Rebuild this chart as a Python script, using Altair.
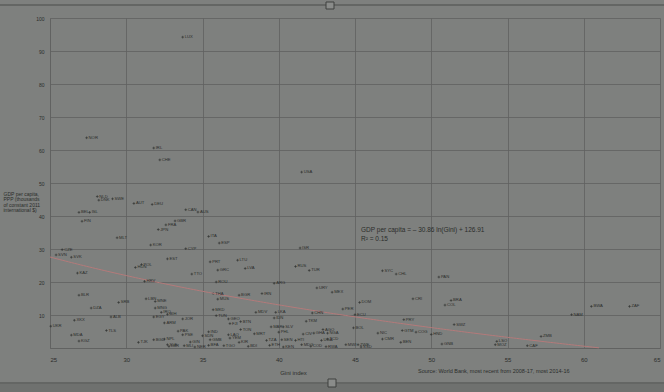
import altair as alt
import pandas as pd

codes = ["LUX","NOR","IRL","CHE","USA","NLD","DNK","SWE","AUT","DEU","CAN","AUS","BEL","ISL","FIN",
         "GBR","FRA","JPN","MLT","ITA","ESP","KOR","CYP","ISR","CZE","SVN","SVK","EST","PRT","LTU",
         "POL","HUN","GRC","LVA","KAZ","RUS","TUR","SYC","CHL","PAN","TTO","HRV","ROU","ARG","URY",
         "MEX","IRN","THA","MUS","BGR","BLR","SRB","LBN","MNE","DZA","MNG","IRQ","BIH","ALB","XKX",
         "EGY","JOR","ARM","UKR","MDA","KGZ","TLS","TJK","BGD","NPL","SLE","LBR","PAK","PSE","GIN",
         "MLI","NER","MKD","TUN","GEO","FJI","BTN","TON","MDV","LKA","IDN","IND","SDN","GMB","BFA",
         "TGO","LAO","YEM","KIR","BDI","MRT","MAR","SLV","PHL","TZA","ETH","SEN","KEN","HTI","CIV",
         "MDG","GHA","AGO","NGA","UGA","TCD","COD","RWA","CHN","TKM","PER","ECU","DOM","BOL","MWI",
         "ZWE","SSD","NIC","CMR","BEN","CRI","PRY","GTM","COG","BRA","COL","HND","GNB","SWZ","LSO",
         "MOZ","CAF","ZMB","NAM","BWA","ZAF"]
gini = [33.7,27.4,31.8,32.2,41.5,28.1,28.2,29.1,30.5,31.7,33.9,34.7,26.9,27.6,27.1,
        33.2,32.6,32.1,29.4,35.4,36.1,31.6,33.9,41.4,25.8,25.4,26.4,32.7,35.5,37.3,
        31.0,30.6,36.0,37.8,26.8,41.1,42.0,46.8,47.7,50.5,34.3,31.2,35.9,39.7,42.5,
        43.5,38.9,35.7,36.0,37.4,26.9,29.5,31.3,31.9,27.7,31.9,32.3,32.7,29.0,26.6,
        31.8,33.7,32.5,25.05,26.4,26.9,28.7,30.8,31.8,32.5,32.7,32.8,33.4,33.7,34.2,
        33.8,34.5,35.7,35.9,36.7,36.8,37.5,37.5,38.5,39.8,39.7,35.4,35.0,35.5,35.4,
        36.4,36.7,36.8,37.4,38.0,38.4,39.5,40.3,40.0,39.2,39.4,40.2,40.3,41.1,41.6,
        41.5,42.3,42.9,43.2,42.8,43.2,42.1,43.1,42.2,41.8,44.2,45.0,45.3,44.9,44.4,
        45.2,45.4,46.5,46.8,48.0,48.8,48.2,48.1,49.0,51.3,50.9,50.0,50.7,51.5,54.3,
        54.2,56.3,57.2,59.2,60.5,63.0]
gdp = [94.2,63.7,60.6,57.0,53.3,45.9,44.8,45.2,43.8,43.5,41.9,41.2,41.1,41.1,38.4,
       38.5,37.3,35.9,33.4,33.8,31.8,31.2,30.1,30.3,29.8,28.2,27.5,27.0,26.1,26.6,
       25.3,24.4,23.6,24.1,22.7,24.7,23.5,23.4,22.4,21.5,22.4,20.2,20.0,19.6,18.2,
       16.9,16.5,16.5,14.8,16.0,16.0,13.8,14.9,14.1,12.1,12.1,10.8,10.2,9.4,8.4,
       9.4,8.8,7.6,6.6,3.9,2.1,5.3,1.7,2.5,2.7,1.0,0.5,5.1,4.0,1.8,
       0.7,0.3,11.6,9.8,8.8,7.4,8.0,5.6,10.8,10.8,9.1,4.9,3.7,2.5,0.8,
       0.7,4.0,3.0,1.7,0.5,4.3,6.4,6.4,4.8,2.3,0.8,2.5,0.3,2.3,4.2,
       1.0,4.5,5.6,4.5,2.3,2.7,0.5,0.4,10.6,8.1,11.8,10.1,13.8,6.1,1.0,
       1.0,0.3,4.5,2.7,1.7,14.9,8.6,5.3,4.8,14.4,13.0,4.1,1.2,7.1,2.0,
       1.0,0.7,3.5,10.1,12.6,12.6]

x_ticks = [25, 30, 35, 40, 45, 50, 55, 60, 65]
y_ticks = [0, 10, 20, 30, 40, 50, 60, 70, 80, 90, 100]
coef_a = -30.86
coef_b = 126.91
y_title = ["GDP per capita,", "PPP (thousands", "of constant 2011", "international $)"]
equation = "GDP per capita = \u2013 30.86 ln(Gini) + 126.91"
r2_text = "R\u00b2 = 0.15"
source = "Source: World Bank, most recent from 2008-17, most 2014-16"

df = pd.DataFrame({"code": codes, "gini": gini, "gdp": gdp})

bg = "#7e807e"
grid = "#5f615f"
ink = "#2b2d2b"
font = "Liberation Sans"

x_axis = alt.Axis(values=x_ticks, title="Gini index", grid=True, gridColor=grid,
                  domainColor=grid, ticks=False, labelPadding=8, labelFontSize=6,
                  labelColor=ink, titleColor=ink, titleFontSize=6, titleFontWeight="normal",
                  titleX=243, titleY=24, titleBaseline="middle", titleFont=font, labelFont=font)
y_axis = alt.Axis(values=y_ticks, title=y_title, grid=True, gridColor=grid,
                  domainColor=grid, ticks=False, labelPadding=6, labelFontSize=5,
                  labelColor=ink, labelExpr="datum.value == 0 ? '' : datum.label",
                  labelOverlap=False,
                  titleColor=ink, titleFontSize=5, titleFontWeight="normal",
                  titleAngle=0, titleAlign="left", titleBaseline="top",
                  titleX=-47, titleY=173, titleLineHeight=5.5, titleFont=font, labelFont=font)
x_scale = alt.Scale(domain=[25, 65], nice=False, zero=False)
y_scale = alt.Scale(domain=[0, 100], nice=False)


def xs():
    return alt.X("gini:Q", scale=x_scale, axis=x_axis)


def ys():
    return alt.Y("gdp:Q", scale=y_scale, axis=y_axis)


base = alt.Chart(df)
points = base.mark_point(shape="M-1,0L1,0M0,-1L0,1", size=7, filled=False,
                         strokeWidth=0.6, color=ink, opacity=1).encode(x=xs(), y=ys())
labels = base.mark_text(align="left", baseline="middle", dx=2, fontSize=4.2,
                        color=ink, font=font).encode(x=xs(), y=ys(), text="code:N")

trend = alt.Chart(alt.sequence(25, 61.2, 0.2, as_="gini")).transform_calculate(
    gdp=f"{coef_a} * log(datum.gini) + {coef_b}"
).mark_line(color="#b47a7a", strokeWidth=1).encode(x=xs(), y=ys())

eq = alt.Chart(pd.DataFrame({"t": [equation]})).mark_text(
    align="left", baseline="alphabetic", fontSize=6.5, color=ink, font=font
).encode(x=alt.value(311), y=alt.value(214), text="t:N")
r2 = alt.Chart(pd.DataFrame({"t": [r2_text]})).mark_text(
    align="left", baseline="alphabetic", fontSize=6.5, color=ink, font=font
).encode(x=alt.value(311), y=alt.value(223), text="t:N")
src = alt.Chart(pd.DataFrame({"t": [source]})).mark_text(
    align="left", baseline="middle", fontSize=5.5, color=ink, font=font
).encode(x=alt.value(368), y=alt.value(353), text="t:N")

# frame decorations (selection lines of the embedded picture)
deco = pd.DataFrame({"k": [0]})
top_line = alt.Chart(deco).mark_rule(color="#4a4c4a", strokeWidth=1).encode(
    x=alt.value(-50), x2=alt.value(614), y=alt.value(-13))
bot_line = alt.Chart(deco).mark_rule(color="#4a4c4a", strokeWidth=1).encode(
    x=alt.value(-50), x2=alt.value(614), y=alt.value(365))
bot_band = alt.Chart(deco).mark_rect(color="#6f716f").encode(
    x=alt.value(-50), x2=alt.value(614), y=alt.value(366), y2=alt.value(374))
top_box = alt.Chart(deco).mark_rect(fill="#8a8c8a", stroke="#3e403e", strokeWidth=1).encode(
    x=alt.value(276), x2=alt.value(284), y=alt.value(-16), y2=alt.value(-9))
bot_box = alt.Chart(deco).mark_rect(fill="#8a8c8a", stroke="#3e403e", strokeWidth=1).encode(
    x=alt.value(278), x2=alt.value(286), y=alt.value(361), y2=alt.value(369))

chart = alt.layer(points, bot_band, top_line, bot_line, top_box, bot_box, trend, labels, eq, r2, src).properties(
    width=610, height=330,
    autosize=alt.AutoSizeParams(type="none"),
    padding={"left": 50, "top": 18, "right": 4, "bottom": 44},
    background=bg,
).configure_view(stroke=None).configure_axis(gridWidth=0.8, domainWidth=0.8)

chart.save("out.html", embed_options={"renderer": "svg", "actions": False})
